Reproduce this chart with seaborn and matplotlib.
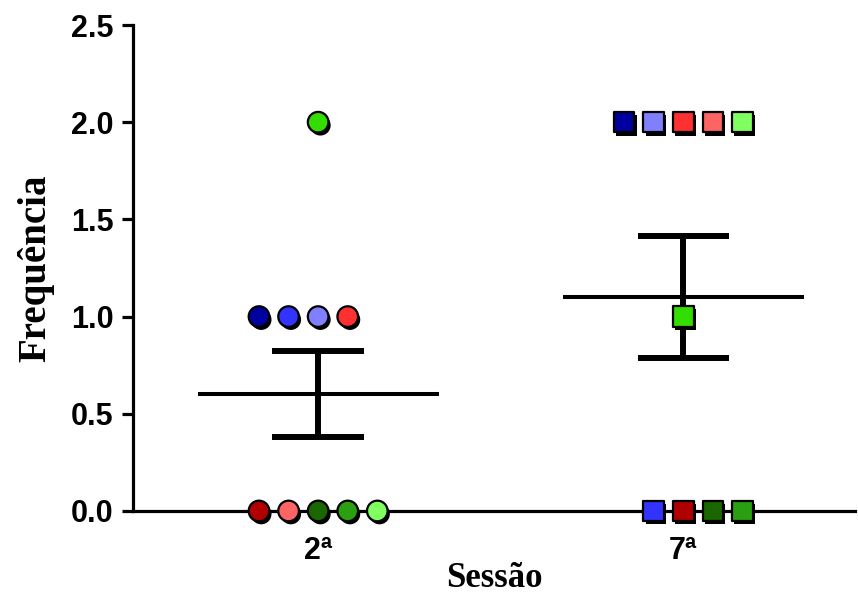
import numpy as np
import pandas as pd
import matplotlib
matplotlib.use("Agg")
import matplotlib.pyplot as plt
import matplotlib.patheffects as pe
from matplotlib.ticker import FormatStrFormatter
import seaborn as sns

# dados: frequência por sujeito em cada sessão
sessions = ["2ª", "7ª"]
subjects = ["S1", "S2", "S3", "S4", "S5", "S6", "S7", "S8", "S9", "S10"]
subject_colors = ["#0000A0", "#3333FF", "#8080FF", "#FF3030", "#B00000",
                  "#FF6464", "#1A6600", "#2AA010", "#80FF60", "#33DD00"]
freq_2 = [1, 1, 1, 1, 0, 0, 0, 0, 0, 2]
freq_7 = [2, 0, 2, 2, 0, 2, 0, 0, 2, 1]

sns.set_theme(style="ticks")
plt.rcParams["font.family"] = ["Liberation Sans", "DejaVu Sans"]
plt.rcParams["text.color"] = "black"
plt.rcParams["xtick.color"] = "black"
plt.rcParams["ytick.color"] = "black"
plt.rcParams["axes.labelcolor"] = "black"

df = pd.DataFrame({
    "subject": subjects * 2,
    "session": [sessions[0]] * 10 + [sessions[1]] * 10,
    "freq": freq_2 + freq_7,
})

# espalhar pontos iguais lado a lado (estilo Prism)
spacing = 0.081
align = {sessions[0]: -0.5, sessions[1]: 0.5}
df["xpos"] = 0.0
for (sess, val), grp in df.groupby(["session", "freq"], sort=False):
    n = len(grp)
    offs = np.arange(n) - (n - 1) / 2
    if n % 2 == 0:
        offs = offs + align[sess]
    df.loc[grp.index, "xpos"] = sessions.index(sess) + offs * spacing

fig = plt.figure(figsize=(8.58, 6.01), dpi=100)
ax = fig.add_axes([0.155, 0.1498, 0.8415, 0.8086])

# média e EPM
for i, sess in enumerate(sessions):
    v = df.loc[df.session == sess, "freq"].to_numpy(dtype=float)
    m = v.mean()
    sem = v.std(ddof=1) / np.sqrt(len(v))
    ax.hlines(m, i - 0.33, i + 0.33, color="black", lw=2.9, zorder=2)
    ax.vlines(i, m - sem, m + sem, color="black", lw=4.3, zorder=2)
    ax.hlines([m - sem, m + sem], i - 0.125, i + 0.125, color="black", lw=4.3, zorder=2)

sns.scatterplot(data=df, x="xpos", y="freq", hue="subject", palette=subject_colors,
                style="session", markers={sessions[0]: "o", sessions[1]: "s"},
                s=220, edgecolor="black", linewidth=1.6, legend=False, ax=ax,
                clip_on=False, zorder=3,
                path_effects=[pe.SimplePatchShadow(offset=(1.6, -2.2), shadow_rgbFace="black", alpha=1),
                              pe.Normal()])

ax.set_xlim(-0.507, 1.47)
ax.set_ylim(0, 2.5)
ax.set_xticks([0, 1])
ax.set_xticklabels(sessions)
ax.set_yticks(np.arange(0, 2.51, 0.5))
ax.yaxis.set_major_formatter(FormatStrFormatter("%.1f"))

for side in ["top", "right"]:
    ax.spines[side].set_visible(False)
for side in ["left", "bottom"]:
    ax.spines[side].set_linewidth(2.3)
    ax.spines[side].set_color("black")

ax.tick_params(axis="y", length=8, width=2.3, pad=6, labelsize=22, color="black")
ax.tick_params(axis="x", length=6, width=2.3, pad=12, labelsize=22, color="black")
for lab in ax.get_xticklabels() + ax.get_yticklabels():
    lab.set_fontweight("bold")

ax.set_xlabel("Sessão", fontsize=25, fontweight="bold",
              family=["Liberation Serif", "DejaVu Serif"], labelpad=-3)
ax.set_ylabel("Frequência", fontsize=28, fontweight="bold",
              family=["Liberation Serif", "DejaVu Serif"], labelpad=12)

fig.savefig("out.png", dpi=100)
